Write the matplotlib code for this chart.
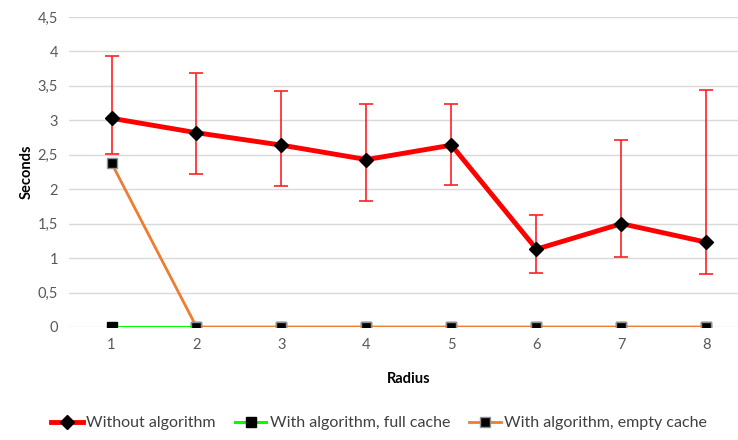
import matplotlib
matplotlib.use("Agg")
import matplotlib.pyplot as plt

# radius categories
radius = [1, 2, 3, 4, 5, 6, 7, 8]

# seconds, without algorithm (mean and error bar ends)
without_alg = [3.03, 2.82, 2.64, 2.43, 2.64, 1.13, 1.50, 1.23]
without_hi = [3.93, 3.68, 3.42, 3.23, 3.23, 1.62, 2.72, 3.44]
without_lo = [2.51, 2.22, 2.05, 1.83, 2.06, 0.78, 1.02, 0.77]

full_cache = [0, 0, 0, 0, 0, 0, 0, 0]
empty_cache = [2.38, 0, 0, 0, 0, 0, 0, 0]

yticks = [0, 0.5, 1, 1.5, 2, 2.5, 3, 3.5, 4, 4.5]
ytick_labels = ["0", "0,5", "1", "1,5", "2", "2,5", "3", "3,5", "4", "4,5"]

plt.rcParams['font.family'] = ['Lato', 'DejaVu Sans']

fig = plt.figure(figsize=(7.38, 4.40), dpi=100)
ax = fig.add_axes([69/738, 113/440, 680/738, 310/440])

err_lo = [m - l for m, l in zip(without_alg, without_lo)]
err_hi = [h - m for m, h in zip(without_alg, without_hi)]

ax.errorbar(radius, without_alg, yerr=[err_lo, err_hi], fmt='none',
            ecolor='#FF2020', elinewidth=1.2, capsize=5, capthick=1.2, zorder=2)
ax.plot(radius, without_alg, color='#FF0000', lw=3.5, marker='D',
        markersize=7, markerfacecolor='black', markeredgecolor='black',
        label='Without algorithm', zorder=3)
ax.plot(radius, full_cache, color='#00FF00', lw=2.2, marker='s',
        markersize=7.5, markerfacecolor='black', markeredgecolor='black',
        label='With algorithm, full cache', zorder=3)
ax.plot(radius, empty_cache, color='#ED7D31', lw=2, marker='s',
        markersize=6.5, markerfacecolor='black', markeredgecolor='#909090',
        markeredgewidth=1, label='With algorithm, empty cache', zorder=4)

ax.set_xlim(0.5, 8.5)
ax.set_ylim(0, 4.5)
ax.set_xticks(radius)
ax.set_xticklabels([str(r) for r in radius])
ax.set_yticks(yticks)
ax.set_yticklabels(ytick_labels)
ax.tick_params(length=0, colors='#595959', labelsize=10.5, pad=8)
ax.yaxis.grid(True, color='#D9D9D9', lw=1)
ax.set_axisbelow(True)
for s in ax.spines.values():
    s.set_visible(False)

ax.set_xlabel('Radius', fontsize=10.5, fontweight='bold', color='black', labelpad=14)
ax.set_ylabel('Seconds', fontsize=10.5, fontweight='bold', color='black', labelpad=3)

leg = fig.legend(loc='center', bbox_to_anchor=(379/738, 17/440), ncol=3,
                 frameon=False, fontsize=11.5, handlelength=2.0,
                 handletextpad=0.2, columnspacing=1.2)
for t in leg.get_texts():
    t.set_color('#404040')

fig.savefig('out.png', dpi=100)
